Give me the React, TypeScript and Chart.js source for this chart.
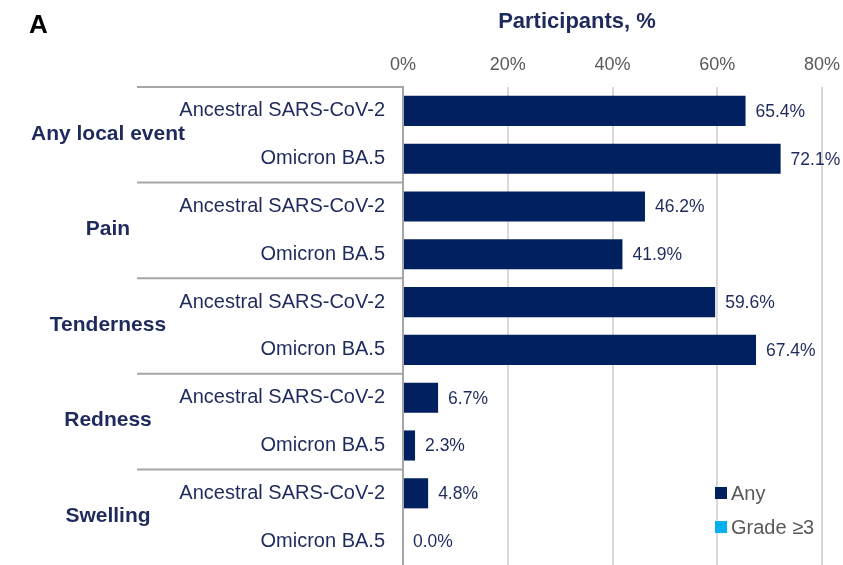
import React, { useEffect, useRef } from "react";
import { Chart, registerables } from "chart.js";

Chart.register(...registerables);

const groups = ["Any local event", "Pain", "Tenderness", "Redness", "Swelling"];
const variants = ["Ancestral SARS-CoV-2", "Omicron BA.5"];
const anyValues = [65.4, 72.1, 46.2, 41.9, 59.6, 67.4, 6.7, 2.3, 4.8, 0.0];
const grade3Values = [0, 0, 0, 0, 0, 0, 0, 0, 0, 0];
const xTicks = [0, 20, 40, 60, 80];
const panelLabel = "A";
const axisTitle = "Participants, %";
const seriesNames = ["Any", "Grade ≥3"];

const NAVY = "#002060";
const TEXT = "#1F2A5C";
const GRAY_TEXT = "#595959";
const LIGHT_BLUE = "#00B0F0";
const FONT = "'Liberation Sans', Arial, sans-serif";

const categories: string[] = [];
groups.forEach((g) => variants.forEach((v) => categories.push(g + "|" + v)));

const zeroPadding = (scale: any) => {
  scale.paddingLeft = 0;
  scale.paddingRight = 0;
  scale.paddingTop = 0;
  scale.paddingBottom = 0;
};

const overlayPlugin = {
  id: "overlay",
  afterDraw(chart: any) {
    const { ctx, chartArea } = chart;
    const yScale = chart.scales.y;
    ctx.save();
    // panel label
    ctx.fillStyle = "#000";
    ctx.font = `bold 26px ${FONT}`;
    ctx.textAlign = "left";
    ctx.textBaseline = "middle";
    ctx.fillText(panelLabel, 29, 26);
    // axis title
    ctx.fillStyle = TEXT;
    ctx.font = `bold 22px ${FONT}`;
    ctx.textAlign = "center";
    ctx.fillText(axisTitle, 577, 22);
    // group separators and labels
    const rowH = (chartArea.bottom - chartArea.top) / categories.length;
    ctx.strokeStyle = "#A6A6A6";
    ctx.lineWidth = 2;
    groups.forEach((g, k) => {
      const yLine = chartArea.top + k * variants.length * rowH;
      ctx.beginPath();
      ctx.moveTo(137, yLine);
      ctx.lineTo(chartArea.left, yLine);
      ctx.stroke();
      const y0 = yScale.getPixelForValue(k * variants.length);
      const y1 = yScale.getPixelForValue(k * variants.length + variants.length - 1);
      ctx.fillStyle = TEXT;
      ctx.font = `bold 21px ${FONT}`;
      ctx.textAlign = "center";
      ctx.textBaseline = "middle";
      ctx.fillText(g, 108, (y0 + y1) / 2 - 1);
    });
    // value labels
    const meta = chart.getDatasetMeta(0);
    ctx.fillStyle = TEXT;
    ctx.font = `17.5px ${FONT}`;
    ctx.textAlign = "left";
    ctx.textBaseline = "middle";
    meta.data.forEach((bar: any, i: number) => {
      ctx.fillText(anyValues[i].toFixed(1) + "%", bar.x + 10, bar.y + 1);
    });
    // legend
    const legendColors = [NAVY, LIGHT_BLUE];
    ctx.font = `20px ${FONT}`;
    seriesNames.forEach((name, i) => {
      const cy = 493 + i * 34;
      ctx.fillStyle = legendColors[i];
      ctx.fillRect(715, cy - 6, 12, 12);
      ctx.fillStyle = GRAY_TEXT;
      ctx.fillText(name, 731, cy + 1);
    });
    ctx.restore();
  },
};

export default function App() {
  const ref = useRef<HTMLCanvasElement | null>(null);
  useEffect(() => {
    if (!ref.current) return;
    const chart = new Chart(ref.current, {
      type: "bar",
      data: {
        labels: categories,
        datasets: [
          {
            label: seriesNames[0],
            data: anyValues,
            backgroundColor: NAVY,
            grouped: false,
            categoryPercentage: 1,
            barPercentage: 0.63,
            order: 2,
          } as any,
          {
            label: seriesNames[1],
            data: grade3Values,
            backgroundColor: LIGHT_BLUE,
            grouped: false,
            categoryPercentage: 1,
            barPercentage: 0.63,
            order: 1,
          } as any,
        ],
      },
      options: {
        indexAxis: "y",
        animation: false,
        responsive: false,
        devicePixelRatio: 1,
        layout: { autoPadding: false, padding: { left: 0, right: 21, top: 0, bottom: 0 } },
        plugins: {
          legend: { display: false },
          tooltip: { enabled: false },
        },
        scales: {
          x: {
            position: "top",
            min: 0,
            max: 80,
            afterBuildTicks: (scale: any) => {
              scale.ticks = xTicks.map((v) => ({ value: v }));
            },
            afterFit: (scale: any) => {
              scale.height = 87;
              zeroPadding(scale);
            },
            ticks: {
              color: GRAY_TEXT,
              font: { family: FONT, size: 18 },
              padding: 11,
              callback: (v: any) => v + "%",
            },
            grid: { color: "#D9D9D9", lineWidth: 2, drawTicks: false },
            border: { display: false },
          },
          y: {
            afterFit: (scale: any) => {
              scale.width = 403;
              zeroPadding(scale);
            },
            ticks: {
              color: TEXT,
              font: { family: FONT, size: 20 },
              padding: 18,
              callback: (_v: any, i: number) => variants[i % variants.length],
            },
            grid: { display: false, drawTicks: false },
            border: { display: true, color: "#A6A6A6", width: 2 },
          },
        },
      },
      plugins: [overlayPlugin],
    } as any);
    return () => chart.destroy();
  }, []);
  return (
    <div style={{ position: "fixed", left: 0, top: 0, width: 843, height: 565, background: "#fff" }}>
      <canvas ref={ref} width={843} height={565} style={{ width: 843, height: 565, display: "block" }} />
    </div>
  );
}
